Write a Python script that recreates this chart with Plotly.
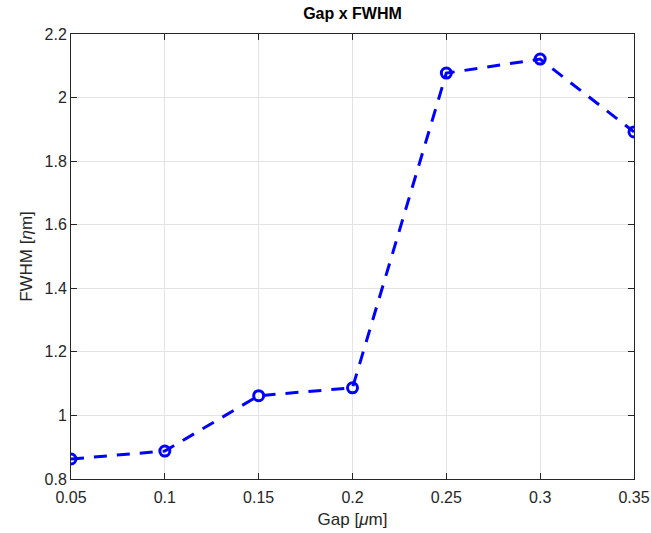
import plotly.graph_objects as go

gap = [0.05, 0.10, 0.15, 0.20, 0.25, 0.30, 0.35]
fwhm = [0.863, 0.888, 1.062, 1.087, 2.077, 2.121, 1.892]

xtick_vals = [0.05, 0.10, 0.15, 0.20, 0.25, 0.30, 0.35]
xtick_text = ["0.05", "0.1", "0.15", "0.2", "0.25", "0.3", "0.35"]
ytick_vals = [0.8, 1.0, 1.2, 1.4, 1.6, 1.8, 2.0, 2.2]
ytick_text = ["0.8", "1", "1.2", "1.4", "1.6", "1.8", "2", "2.2"]

font_family = "Liberation Sans, Arial, sans-serif"
axis_color = "#262626"

fig = go.Figure()
fig.add_trace(go.Scatter(
    x=gap, y=fwhm, mode="lines+markers",
    line=dict(color="#0000ff", width=3, dash="13px,10px"),
    marker=dict(symbol="circle-open", size=10, color="#0000ff",
                line=dict(width=3, color="#0000ff")),
    showlegend=False,
))

common = dict(
    showline=True, linecolor=axis_color, linewidth=1, mirror="ticks",
    ticks="inside", ticklen=6, tickcolor=axis_color, tickwidth=1,
    showgrid=True, gridcolor="#e3e3e3", gridwidth=1, zeroline=False,
    automargin=False,
    tickfont=dict(family=font_family, size=16, color=axis_color),
)

fig.update_layout(
    width=651, height=533,
    margin=dict(l=71, r=17, t=34, b=54),
    plot_bgcolor="white", paper_bgcolor="white",
    title=dict(text="<b>Gap x FWHM</b>", x=0.5, xref="paper", xanchor="center",
               y=1 - 13 / 533, yref="container", yanchor="middle",
               font=dict(family=font_family, size=16, color="#000000")),
    xaxis=dict(range=[0.05, 0.35], tickvals=xtick_vals, ticktext=xtick_text,
               ticklabelstandoff=4,
               title=dict(text="Gap [<i>μ</i>m]", standoff=7,
                          font=dict(family=font_family, size=17, color=axis_color)),
               **common),
    yaxis=dict(range=[0.8, 2.2], tickvals=ytick_vals, ticktext=ytick_text,
               title=dict(text="FWHM [<i>η</i>m]", standoff=7,
                          font=dict(family=font_family, size=17, color=axis_color)),
               **common),
)

fig.write_html("out.html")
